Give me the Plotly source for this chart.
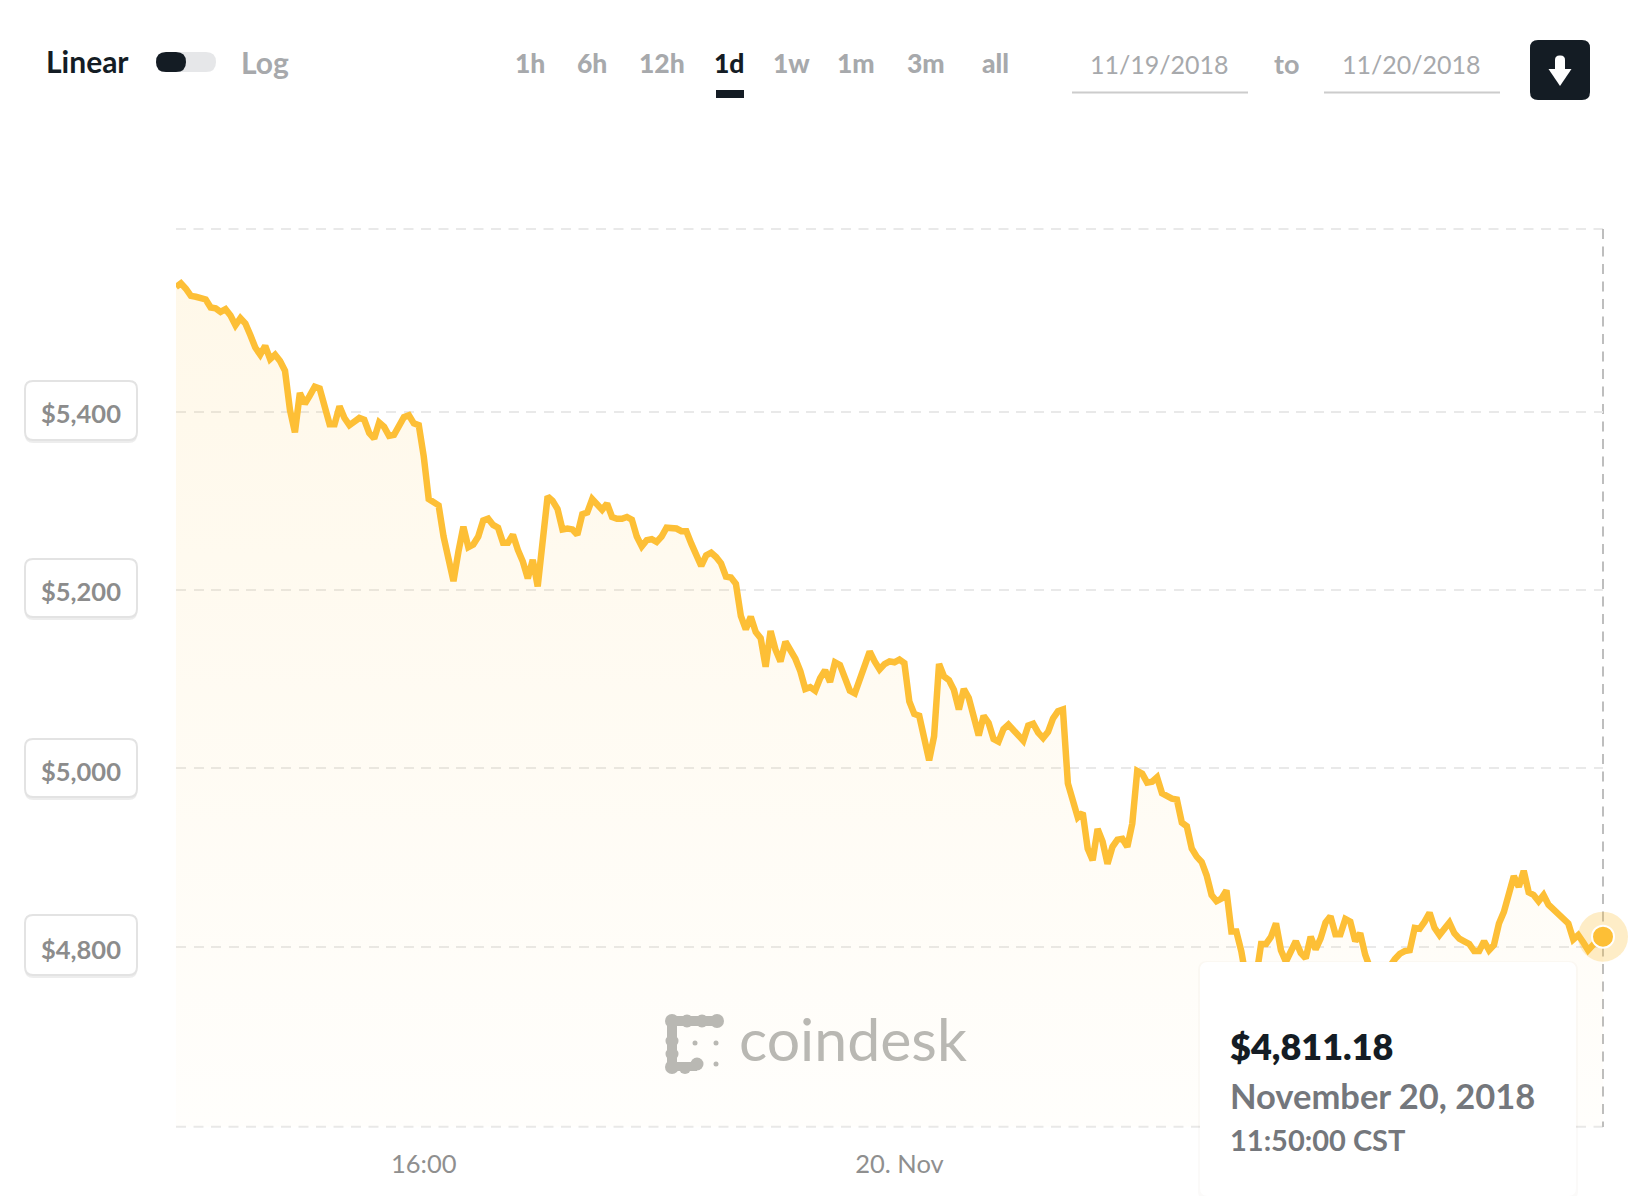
import pandas as pd
import plotly.graph_objects as go

W, H = 1628, 1196
START = "2018-11-19 11:50"
END = "2018-11-20 11:50"

prices_a = [5540,5544,5538,5530,5529,5527,5526,5517,5516,5512,5515,5508,5497,5505,5499,5486,5472,5464,5474,5459,
            5464,5457,5446,5402,5377,5421,5409,5418,5428,5426,5404,5386,5386,5406,5393,5385,5389,5393,5391,5376,
            5370,5388,5383,5373,5374,5384,5394,5396,5387,5385,5350,5302,5298,5295,5260,5234,5210,5243,5271,5248,
            5251,5260,5278,5280,5273,5270,5253,5253,5262,5245,5232,5213,5234,5204,5252,5305,5300,5291]
prices_b = [5268,5269,5268,5262,5285,5287,5302,5297,5290,5297,5282,5280,5280,5282,5279,5260,5249,5256,5257,5254,
            5260,5270,5269,5269,5266,5266,5252,5240,5227,5239,5242,5237,5230,5215,5214,5207,5171,5156,5170,5153,
            5146,5114,5154,5133,5120,5142,5133,5123,5109,5089,5091,5087,5101,5110,5097,5119,5116,5101,5087,5084,
            5099,5114,5131,5120,5111,5117,5120,5119,5122,5118,5075,5061,5059,5034,5009,5036,5117,5103,5099,5088,5066]
prices_c = [5089,5079,5058,5037,5059,5051,5033,5030,5044,5049,5043,5036,5031,5048,5050,5040,5034,5041,5056,5064,
            5066,4983,4966,4945,4950,4910,4897,4932,4918,4893,4912,4920,4921,4912,4938,4997,4994,4984,4985,4990,
            4972,4968,4966,4965,4939,4935,4910,4901,4895,4880,4858,4851,4854,4863,4817,4817]
prices_d = [4795,4763,4744,4766,4803,4803,4811,4826,4796,4783,4795,4806,4793,4787,4811,4797,4809,4827,4834,4814,
            4814,4831,4828,4806,4815,4791,4776,4759,4744,4755,4778,4786,4792,4795,4796,4821,4820,4828,4838,4821,
            4813,4820,4827,4815,4809,4806,4803,4795,4795,4806,4796,4802,4826,4839,4860,4879,4867,4885,4861,4858,
            4851,4858,4847,4842,4838,4832,4826,4808,4813,4805,4796,4802,4808,4811.18]
prices = prices_a + prices_b + prices_c + prices_d
times = pd.date_range(START, periods=len(prices), freq="5min")

grid_values = [4800, 5000, 5200, 5400]
y_labels = ["$4,800", "$5,000", "$5,200", "$5,400"]
y_label_values = [4800, 5000, 5200, 5400]
x_tick_values = ["2018-11-19 16:00", "2018-11-20 00:00"]
x_tick_labels = ["16:00", "20. Nov"]
range_labels = ["1h", "6h", "12h", "1d", "1w", "1m", "3m", "all"]
date_from, date_to = "11/19/2018", "11/20/2018"
tip_price, tip_date, tip_time = "$4,811.18", "November 20, 2018", "11:50:00 CST"

DARK, GREY, LINE = "#141C24", "#A7A9AC", "#FDBF36"
FONT = "Lato"
GRID = "#E9E9E9"


def px(x):
    return x / W


def py(y):
    return 1 - y / H


def round_rect(x0, y0, x1, y1, r):
    pts = [("M", x0 + r, y0), ("L", x1 - r, y0), ("Q", x1, y0, x1, y0 + r), ("L", x1, y1 - r),
           ("Q", x1, y1, x1 - r, y1), ("L", x0 + r, y1), ("Q", x0, y1, x0, y1 - r), ("L", x0, y0 + r),
           ("Q", x0, y0, x0 + r, y0)]
    out = []
    for p in pts:
        vals = p[1:]
        coords = [f"{px(vals[i])},{py(vals[i + 1])}" for i in range(0, len(vals), 2)]
        out.append(p[0] + " " + " ".join(coords))
    return " ".join(out) + " Z"


def poly(points):
    return "M " + " L ".join(f"{px(a)},{py(b)}" for a, b in points) + " Z"


shapes, annots = [], []


def box(x0, y0, x1, y1, r, fill, line=None, lw=0, layer="above"):
    shapes.append(dict(type="path", xref="paper", yref="paper", path=round_rect(x0, y0, x1, y1, r),
                       fillcolor=fill, line=dict(color=line or fill, width=lw), layer=layer))


def label(x, y, text, size, color, weight=400, anchor="center"):
    annots.append(dict(xref="paper", yref="paper", x=px(x), y=py(y), text=text,
                       showarrow=False, xanchor=anchor, yanchor="middle", borderpad=0,
                       font=dict(family=FONT, size=size, color=color, weight=weight)))


# header
label(87, 61, "Linear", 30, DARK, 700)
box(156, 52, 216, 72, 10, "#E6E7E9")
box(156, 52, 186, 72, 10, DARK)
label(265, 62, "Log", 30, GREY, 700)
range_x = [530, 592, 662, 729, 791, 856, 926, 995]
for x, t in zip(range_x, range_labels):
    label(x, 63, t, 26.5, DARK if t == "1d" else GREY, 900)
box(716, 90, 744, 98, 0.1, DARK)
label(1159, 64, date_from, 25, GREY, 400)
label(1411, 64, date_to, 25, GREY, 400)
label(1286, 64, "to", 27, GREY, 700)
box(1072, 91.5, 1248, 93.5, 0.1, "#CCCCCC")
box(1324, 91.5, 1500, 93.5, 0.1, "#CCCCCC")
box(1530, 40, 1590, 100, 8, DARK)
box(1555, 55.5, 1565, 74, 4.5, "#FFFFFF")
shapes.append(dict(type="path", xref="paper", yref="paper", path=poly([(1548.5, 69), (1571.5, 69), (1560, 86)]),
                   fillcolor="#FFFFFF", line=dict(width=0)))

# boxed y labels
boxes = {4800: (915, 975), 5000: (739, 797), 5200: (559, 617), 5400: (381, 440)}
text_off = {4800: 2, 5000: 3, 5200: 1, 5400: 1}
for v, t in zip(y_label_values, y_labels):
    y0, y1 = boxes[v]
    box(25, y0 + 2, 137, y1 + 3, 8, "rgba(0,0,0,0.07)")
    box(25, y0, 137, y1, 8, "#FFFFFF", "#E3E3E3", 2)
    label(80.5, 411.7 + (5400 - v) * 0.8917 + text_off[v], t, 25.5, "#8C8C8C", 700)

# top and bottom grid lines (the axis drops lines that sit on its ends)
for y in (229, 1126.7):
    shapes.append(dict(type="line", xref="paper", yref="paper", x0=px(176), x1=px(1603), y0=py(y), y1=py(y),
                       line=dict(color=GRID, width=2, dash="10px,7.5px"), layer="below"))
# crosshair
shapes.append(dict(type="line", xref="paper", yref="paper", x0=px(1603), x1=px(1603), y0=py(229), y1=py(1127),
                   line=dict(color="#BEBEBE", width=2, dash="10px,7.5px"), layer="below"))

# watermark logo
LOGO = "#B9B8B3"
for cx, cy, r in [(672, 1021, 7), (687, 1021, 6.5), (702, 1021, 6.5), (717, 1021, 7), (672, 1041, 6.5), (672, 1054, 6.5),
                  (672, 1067, 7), (685, 1068, 6), (697, 1064, 6.5), (695, 1043, 2.5), (716, 1043, 2.5), (716, 1064, 2.5)]:
    shapes.append(dict(type="circle", xref="paper", yref="paper", x0=px(cx - r), x1=px(cx + r), y0=py(cy - r), y1=py(cy + r),
                       fillcolor=LOGO, line=dict(width=0)))
for a, b, c, d in [(672, 1016, 717, 1026), (667, 1021, 677, 1066), (672, 1062, 697, 1071)]:
    box(a, b, c, d, 0.1, LOGO)
label(853, 1038, "coindesk", 59, LOGO, 400)

# tooltip
box(1198, 961, 1578, 1200, 9, "rgba(120,100,60,0.03)")
box(1200, 962, 1576, 1196, 8, "#FFFFFF")
label(1229, 1046, tip_price, 36, DARK, 800, "left")
label(1229, 1095, tip_date, 34.5, "#74777C", 700, "left")
label(1229, 1139, tip_time, 29, "#74777C", 700, "left")

fig = go.Figure()
fig.add_trace(go.Scatter(
    x=times, y=prices, mode="lines", line=dict(color=LINE, width=6.5, shape="linear"),
    fill="tozeroy",
    fillgradient=dict(type="vertical", start=5560, stop=4598,
                      colorscale=[[0, "rgba(255,191,51,0.11)"], [1, "rgba(255,191,51,0.015)"]]),
    hoverinfo="skip", showlegend=False))
fig.add_trace(go.Scatter(
    x=[times[-1]], y=[prices[-1]], mode="markers", cliponaxis=False,
    marker=dict(size=50, color="rgba(253,191,54,0.28)", line=dict(width=0)),
    hoverinfo="skip", showlegend=False))
fig.add_trace(go.Scatter(
    x=[times[-1]], y=[prices[-1]], mode="markers", cliponaxis=False,
    marker=dict(size=22, color=LINE, line=dict(width=2, color="#FFFFFF")),
    hoverinfo="skip", showlegend=False))

fig.update_layout(
    width=W, height=H, margin=dict(l=0, r=0, t=0, b=0), paper_bgcolor="#FFFFFF", plot_bgcolor="rgba(0,0,0,0)",
    showlegend=False, shapes=shapes, annotations=annots,
    font=dict(family=FONT),
    xaxis=dict(type="date", domain=[px(176), px(1603)], range=[START, END], showgrid=False, zeroline=False,
               showline=False, tickmode="array", tickvals=x_tick_values, ticktext=x_tick_labels,
               tickfont=dict(family=FONT, size=25.5, color="#8F8F8F"), ticks="outside", ticklen=15,
               tickcolor="rgba(0,0,0,0)", automargin=False),
    yaxis=dict(domain=[py(1126.7), py(229)], range=[4598, 5605], zeroline=False, showline=False,
               tickmode="array", tickvals=grid_values, showticklabels=False, ticks="",
               showgrid=True, gridcolor=GRID, gridwidth=2, griddash="10px,7.5px", automargin=False),
)
fig.write_html("out.html", config={"displayModeBar": False},
               post_script="document.body.style.margin='0';document.body.style.overflow='hidden';")
